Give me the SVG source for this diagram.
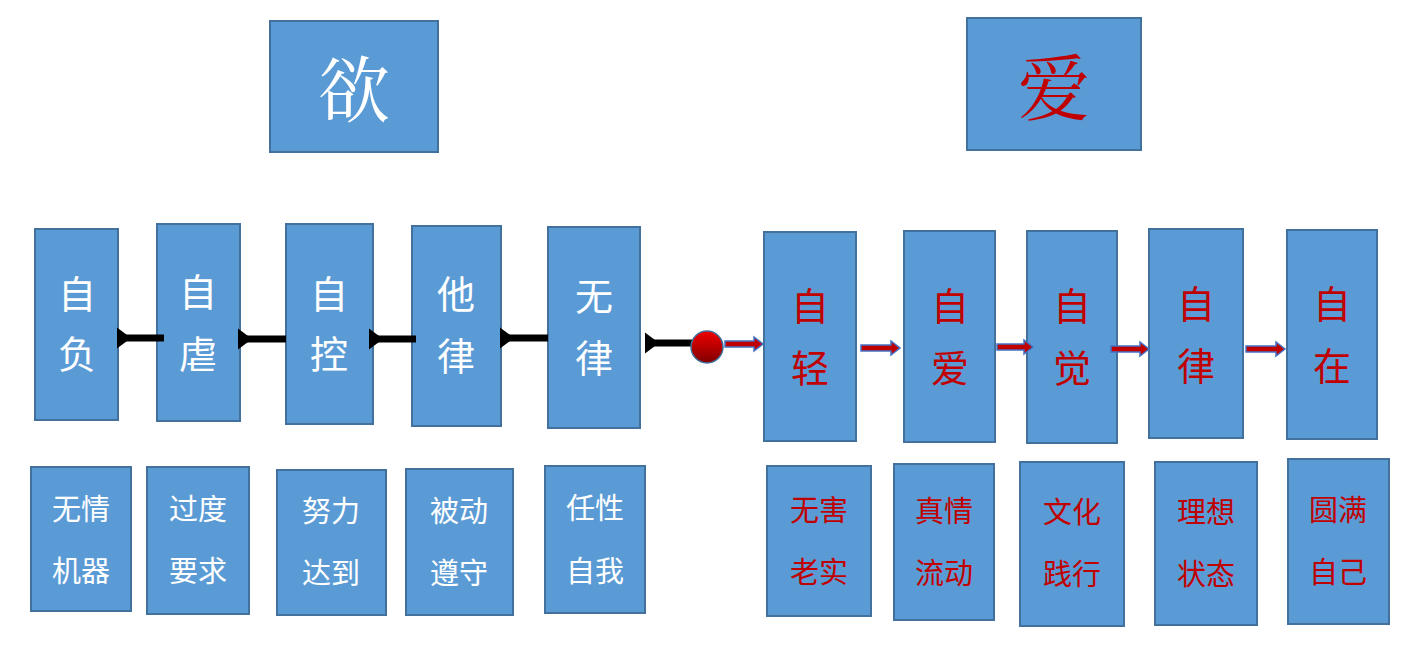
<svg xmlns="http://www.w3.org/2000/svg" width="1423" height="666" viewBox="0 0 1423 666">
<style>
.b{fill:#5b9bd5;stroke:#41719c;stroke-width:2}
text{font-family:"Noto Sans CJK SC",sans-serif;text-anchor:middle}
.w{fill:#fff}.r{fill:#c00000}
.t{font-size:72px;font-family:"Noto Serif CJK SC","Noto Sans CJK SC",serif}
.m{font-size:38px}.s{font-size:29px}
</style>
<defs>
<marker id="bk" markerWidth="4" markerHeight="4" refX="1" refY="2" orient="auto"><path d="M0,2 L2,0.5 L2,3.5 Z" fill="#000"/></marker>
</defs>
<rect width="1423" height="666" fill="#fff"/>
<g id="yu"><rect class="b" x="270" y="21" width="168" height="131"/><text class="t w" x="354" y="116">欲</text></g>
<g id="ai"><rect class="b" x="967" y="18" width="174" height="132"/><text class="t r" x="1054" y="114">爱</text></g>
<g id="n1"><rect class="b" x="35" y="229" width="83" height="191"/><text class="m w" x="77" y="308">自</text><text class="m w" x="77" y="368">负</text></g>
<g id="n2"><rect class="b" x="157" y="224" width="83" height="197"/><text class="m w" x="198" y="306">自</text><text class="m w" x="198" y="368">虐</text></g>
<g id="n3"><rect class="b" x="286" y="224" width="87" height="200"/><text class="m w" x="329" y="308">自</text><text class="m w" x="329" y="368">控</text></g>
<g id="n4"><rect class="b" x="412" y="226" width="89" height="200"/><text class="m w" x="456" y="308">他</text><text class="m w" x="456" y="370">律</text></g>
<g id="n5"><rect class="b" x="548" y="227" width="92" height="201"/><text class="m w" x="594" y="310">无</text><text class="m w" x="594" y="372">律</text></g>
<g id="n6"><rect class="b" x="764" y="232" width="92" height="209"/><text class="m r" x="810" y="320">自</text><text class="m r" x="810" y="382">轻</text></g>
<g id="n7"><rect class="b" x="904" y="231" width="91" height="211"/><text class="m r" x="950" y="320">自</text><text class="m r" x="950" y="382">爱</text></g>
<g id="n8"><rect class="b" x="1027" y="231" width="90" height="212"/><text class="m r" x="1072" y="320">自</text><text class="m r" x="1072" y="382">觉</text></g>
<g id="n9"><rect class="b" x="1149" y="229" width="94" height="209"/><text class="m r" x="1196" y="318">自</text><text class="m r" x="1196" y="380">律</text></g>
<g id="n10"><rect class="b" x="1287" y="230" width="90" height="209"/><text class="m r" x="1332" y="318">自</text><text class="m r" x="1332" y="380">在</text></g>
<g id="d1"><rect class="b" x="31" y="467" width="100" height="144"/><text class="s w" x="81" y="520">无情</text><text class="s w" x="81" y="582">机器</text></g>
<g id="d2"><rect class="b" x="147" y="467" width="102" height="147"/><text class="s w" x="198" y="520">过度</text><text class="s w" x="198" y="582">要求</text></g>
<g id="d3"><rect class="b" x="277" y="470" width="109" height="145"/><text class="s w" x="331" y="522">努力</text><text class="s w" x="331" y="584">达到</text></g>
<g id="d4"><rect class="b" x="406" y="469" width="107" height="146"/><text class="s w" x="459" y="522">被动</text><text class="s w" x="459" y="584">遵守</text></g>
<g id="d5"><rect class="b" x="545" y="466" width="100" height="147"/><text class="s w" x="595" y="519">任性</text><text class="s w" x="595" y="582">自我</text></g>
<g id="d6"><rect class="b" x="767" y="466" width="104" height="150"/><text class="s r" x="819" y="521">无害</text><text class="s r" x="819" y="583">老实</text></g>
<g id="d7"><rect class="b" x="894" y="464" width="100" height="156"/><text class="s r" x="944" y="522">真情</text><text class="s r" x="944" y="584">流动</text></g>
<g id="d8"><rect class="b" x="1020" y="462" width="104" height="164"/><text class="s r" x="1072" y="523">文化</text><text class="s r" x="1072" y="585">践行</text></g>
<g id="d9"><rect class="b" x="1155" y="462" width="102" height="163"/><text class="s r" x="1206" y="523">理想</text><text class="s r" x="1206" y="585">状态</text></g>
<g id="d10"><rect class="b" x="1288" y="459" width="101" height="165"/><text class="s r" x="1338" y="521">圆满</text><text class="s r" x="1338" y="583">自己</text></g>
<g id="connectors">
<g stroke="#000" stroke-width="7" fill="none" marker-end="url(#bk)">
<line x1="164" y1="338" x2="124" y2="338"/>
<line x1="286" y1="339" x2="245" y2="339"/>
<line x1="416" y1="339" x2="376" y2="339"/>
<line x1="548" y1="338" x2="507" y2="338"/>
<line x1="692" y1="343" x2="652" y2="343"/>
</g>
<g fill="#c00000" stroke="#4472c4" stroke-width="1.5">
<path d="M725,341 h29 v-4 l9,7 l-9,7 v-4 h-29 Z"/>
<path d="M861,345 h30 v-4 l9,7 l-9,7 v-4 h-30 Z"/>
<path d="M997,344 h27 v-4 l9,7 l-9,7 v-4 h-27 Z"/>
<path d="M1111,346 h29 v-4 l9,7 l-9,7 v-4 h-29 Z"/>
<path d="M1246,346 h30 v-4 l9,7 l-9,7 v-4 h-30 Z"/>
</g>
<defs><linearGradient id="rg" x1="0" y1="0" x2="0" y2="1"><stop offset="0" stop-color="#f00000"/><stop offset="1" stop-color="#800000"/></linearGradient></defs>
<circle cx="707" cy="347" r="16" fill="url(#rg)" stroke="#41719c" stroke-width="1.5"/>
</g>
</svg>
